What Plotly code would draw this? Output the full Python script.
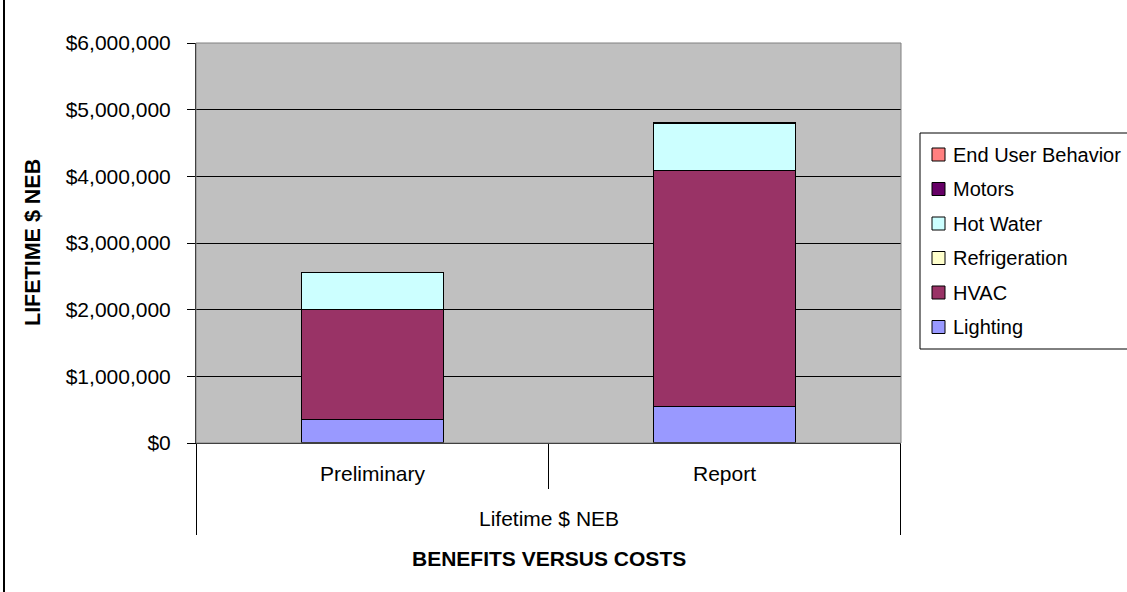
import plotly.graph_objects as go

# Lifetime non-energy benefits by end use, stacked per estimate
categories = ["Preliminary", "Report"]
group_label = "Lifetime $ NEB"
series_names = ["Lighting", "HVAC", "Refrigeration", "Hot Water", "Motors", "End User Behavior"]
lighting = [350000, 545000]
hvac = [1650000, 3545000]
refrigeration = [0, 0]
hot_water = [555000, 710000]
motors = [0, 0]
end_user_behavior = [0, 0]
series_values = [lighting, hvac, refrigeration, hot_water, motors, end_user_behavior]
series_colors = ["#9999FF", "#993366", "#FFFFCC", "#CCFFFF", "#660066", "#FF8080"]
y_ticks = [0, 1000000, 2000000, 3000000, 4000000, 5000000, 6000000]

W, H = 1127, 592
L, R, T, B = 196, 226, 43, 149
PW, PH = W - L - R, H - T - B
FONT = "Liberation Sans, Arial, sans-serif"


def px_x(px):
    return (px - L) / PW


def px_y(py):
    return (H - B - py) / PH


fig = go.Figure()
for name, vals, col in zip(series_names, series_values, series_colors):
    # empty segments get no outline so they don't leave a stray edge
    widths = [1.2 if v else 0 for v in vals]
    fig.add_trace(go.Bar(
        x=categories, y=vals, name=name,
        marker=dict(color=col, line=dict(color="black", width=widths)),
        showlegend=False,
    ))

shapes = []
annotations = []

# category dividers below the plot
for xv, bottom in [(-0.5, 535), (0.5, 489), (1.5, 535)]:
    shapes.append(dict(type="line", xref="x", yref="paper", x0=xv, x1=xv,
                       y0=0, y1=px_y(bottom), line=dict(color="black", width=1)))

for c in categories:
    annotations.append(dict(text=c, xref="x", yref="paper", x=c, y=px_y(474),
                            xanchor="center", yanchor="middle", showarrow=False,
                            font=dict(family=FONT, size=21, color="black")))
annotations.append(dict(text=group_label, xref="paper", yref="paper", x=0.5, y=px_y(518),
                        xanchor="center", yanchor="middle", showarrow=False,
                        font=dict(family=FONT, size=21, color="black")))
annotations.append(dict(text="<b>BENEFITS VERSUS COSTS</b>", xref="paper", yref="paper",
                        x=0.5, y=px_y(558), xanchor="center", yanchor="middle",
                        showarrow=False, font=dict(family=FONT, size=21, color="black")))
annotations.append(dict(text="<b>LIFETIME $ NEB</b>", xref="paper", yref="paper",
                        x=px_x(33), y=0.5, textangle=-90, xanchor="center",
                        yanchor="middle", showarrow=False,
                        font=dict(family=FONT, size=21.5, color="black")))

# plot area border
shapes.append(dict(type="rect", xref="paper", yref="paper", x0=0, x1=1, y0=0, y1=1,
                   line=dict(color="#808080", width=1), layer="above"))

# legend box, top entry = last series
shapes.append(dict(type="rect", xref="paper", yref="paper",
                   x0=px_x(920), x1=px_x(1145), y0=px_y(349), y1=px_y(133),
                   line=dict(color="black", width=1), fillcolor="white"))
for i, (name, col) in enumerate(zip(series_names[::-1], series_colors[::-1])):
    cy = 154.5 + i * 34.5
    shapes.append(dict(type="rect", xref="paper", yref="paper",
                       x0=px_x(932), x1=px_x(945), y0=px_y(cy + 6.5), y1=px_y(cy - 6.5),
                       line=dict(color="black", width=1), fillcolor=col))
    annotations.append(dict(text=name, xref="paper", yref="paper", x=px_x(951), y=px_y(cy),
                            xanchor="left", yanchor="middle", showarrow=False,
                            font=dict(family=FONT, size=20, color="black")))

# outer chart edge on the left
shapes.append(dict(type="line", xref="paper", yref="paper", x0=px_x(4), x1=px_x(4),
                   y0=px_y(H), y1=px_y(0), line=dict(color="black", width=2)))

fig.update_layout(
    width=W, height=H,
    margin=dict(l=L, r=R, t=T, b=B, pad=0),
    paper_bgcolor="white", plot_bgcolor="#C0C0C0",
    barmode="stack", bargap=0.595,
    showlegend=False,
    font=dict(family=FONT, size=21, color="black"),
    shapes=shapes, annotations=annotations,
)
fig.update_xaxes(showticklabels=False, ticks="", showline=True, linecolor="black",
                 linewidth=1, showgrid=False, zeroline=False)
fig.update_yaxes(range=[0, 6000000], tickvals=y_ticks, tickformat="$,.0f",
                 ticks="outside", ticklen=8, tickcolor="black", tickwidth=1,
                 ticklabelstandoff=12,
                 showline=True, linecolor="black", linewidth=1,
                 showgrid=True, gridcolor="black", gridwidth=1, zeroline=False,
                 tickfont=dict(family=FONT, size=21, color="black"))

fig.write_html("out.html")
